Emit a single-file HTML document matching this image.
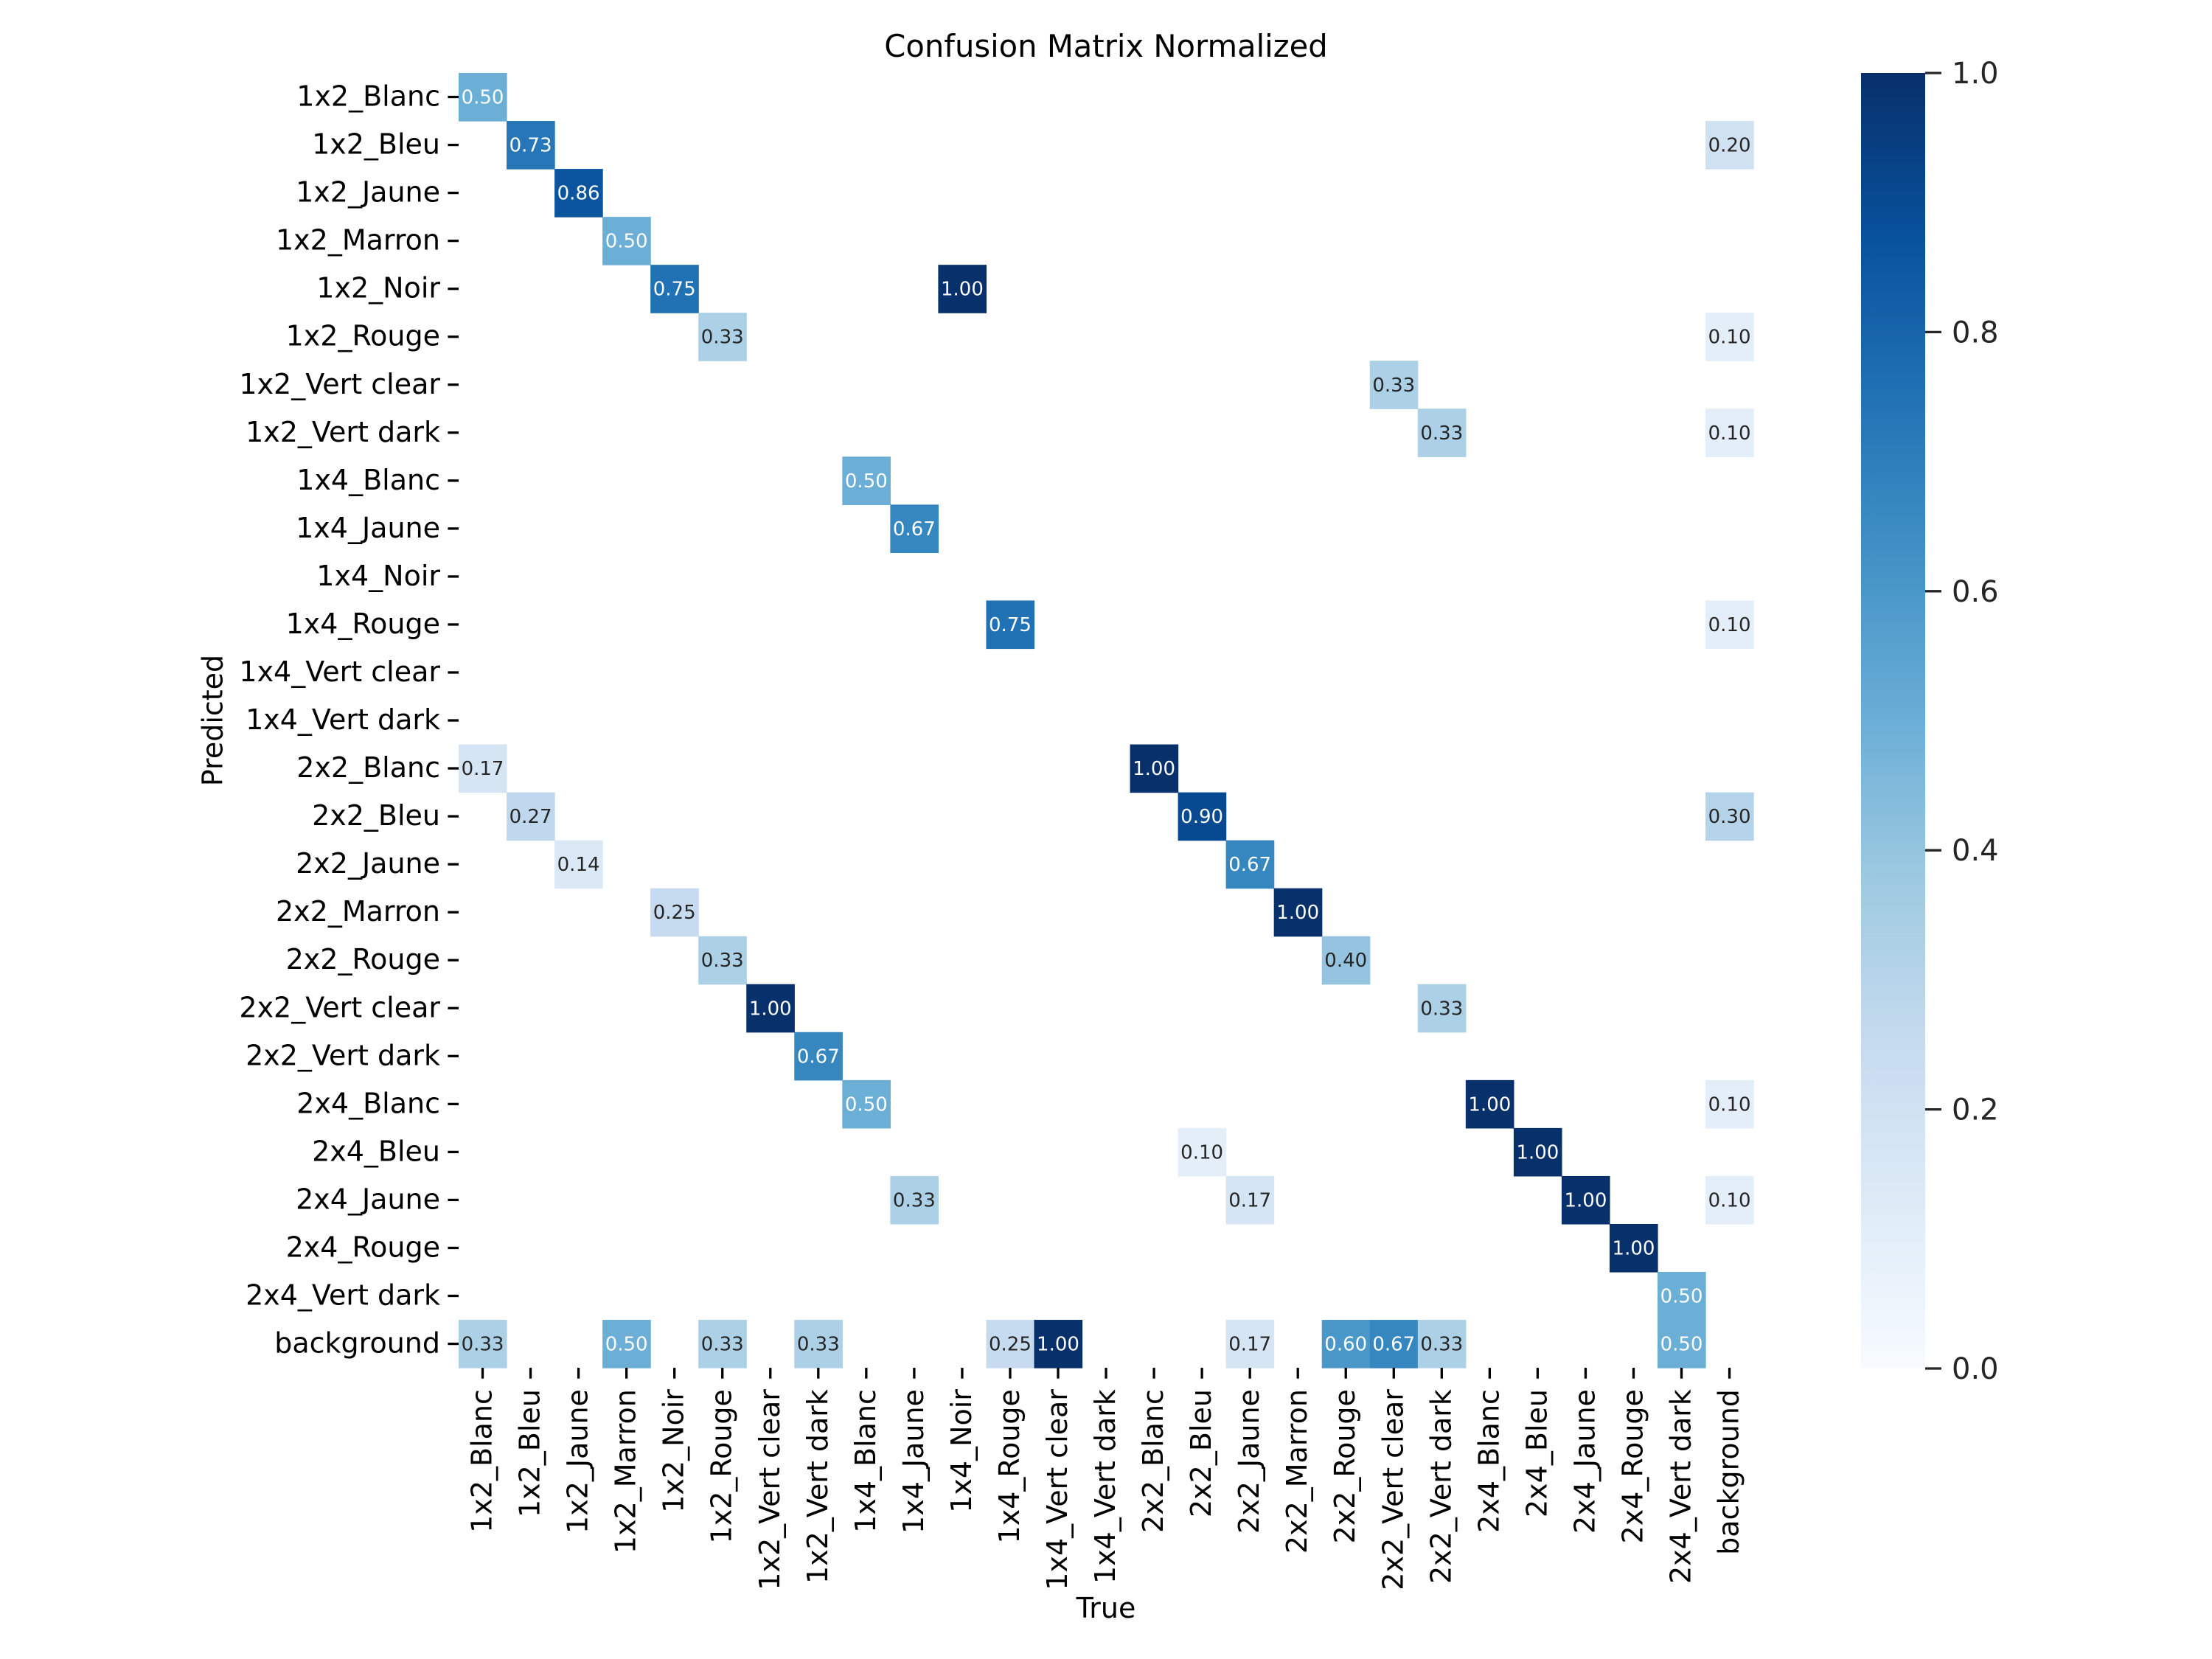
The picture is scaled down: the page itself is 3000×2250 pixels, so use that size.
<!DOCTYPE html>
<html><head><meta charset="utf-8"><style>
html,body{margin:0;padding:0;background:#fff;}
svg{display:block;font-family:"DejaVu Sans","Liberation Sans",sans-serif;}
</style></head><body>
<svg id="chart" width="3000" height="2250" viewBox="0 0 3000 2250" xmlns="http://www.w3.org/2000/svg">
<defs>
<linearGradient id="cbgrad" x1="0" y1="1" x2="0" y2="0">
<stop offset="0" stop-color="#f7fbff"/><stop offset="0.125" stop-color="#deebf7"/><stop offset="0.25" stop-color="#c6dbef"/><stop offset="0.375" stop-color="#9ecae1"/><stop offset="0.5" stop-color="#6baed6"/><stop offset="0.625" stop-color="#4292c6"/><stop offset="0.75" stop-color="#2171b5"/><stop offset="0.875" stop-color="#08519c"/><stop offset="1" stop-color="#08306b"/>
</linearGradient>
</defs>
<text x="1500" y="77" text-anchor="middle" font-size="41.7" fill="#000">Confusion Matrix Normalized</text>
<g id="cells"></g>
<g id="ylabels"></g>
<g id="xlabels"></g>
<text x="291" y="977" transform="rotate(-90 291 977)" text-anchor="middle" dominant-baseline="middle" font-size="38" fill="#000">Predicted</text>
<text x="1500" y="2194" text-anchor="middle" font-size="38" fill="#000">True</text>
<rect x="2524" y="99" width="87" height="1757" fill="url(#cbgrad)"/>
<g id="cbticks"></g>
</svg>
<script>
const labels = ["1x2_Blanc","1x2_Bleu","1x2_Jaune","1x2_Marron","1x2_Noir","1x2_Rouge","1x2_Vert clear","1x2_Vert dark","1x4_Blanc","1x4_Jaune","1x4_Noir","1x4_Rouge","1x4_Vert clear","1x4_Vert dark","2x2_Blanc","2x2_Bleu","2x2_Jaune","2x2_Marron","2x2_Rouge","2x2_Vert clear","2x2_Vert dark","2x4_Blanc","2x4_Bleu","2x4_Jaune","2x4_Rouge","2x4_Vert dark","background"];
const cellRows = [0,1,1,2,3,4,4,5,5,6,7,7,8,9,11,11,14,14,15,15,15,16,16,17,17,18,18,19,19,20,21,21,21,22,22,23,23,23,23,24,25,26,26,26,26,26,26,26,26,26,26,26];
const cellCols = [0,1,26,2,3,4,10,5,26,19,20,26,8,9,11,26,0,14,1,15,26,2,16,4,17,5,18,6,20,7,8,21,26,15,22,9,16,23,26,24,25,0,3,5,7,11,12,16,18,19,20,25];
const cellValues = [0.50,0.73,0.20,0.86,0.50,0.75,1.00,0.33,0.10,0.33,0.33,0.10,0.50,0.67,0.75,0.10,0.17,1.00,0.27,0.90,0.30,0.14,0.67,0.25,1.00,0.33,0.40,1.00,0.33,0.67,0.50,1.00,0.10,0.10,1.00,0.33,0.17,1.00,0.10,1.00,0.50,0.33,0.50,0.33,0.33,0.25,1.00,0.17,0.60,0.67,0.33,0.50];
const cbTicks = [0.0,0.2,0.4,0.6,0.8,1.0];

const NS="http://www.w3.org/2000/svg";
const X0=622, Y0=99, CELL=65.04, N=labels.length;
const CB_Y0=99, CB_Y1=1856, CB_X=2611;
const FS=38;
function xPos(i){return X0+i*CELL;}
function yPos(i){return Y0+i*CELL;}
function cbY(v){return CB_Y1-(CB_Y1-CB_Y0)*v;}
const stops=[[247,251,255],[222,235,247],[198,219,239],[158,202,225],[107,174,214],[66,146,198],[33,113,181],[8,81,156],[8,48,107]];
function blues(v){
  const t=Math.max(0,Math.min(1,v))*8; const i=Math.min(7,Math.floor(t)); const f=t-i;
  const c=stops[i].map((a,k)=>Math.round(a+(stops[i+1][k]-a)*f));
  return {css:`rgb(${c[0]},${c[1]},${c[2]})`,rgb:c};
}
function lum(c){const l=c.map(x=>{x/=255;return x<=0.03928?x/12.92:Math.pow((x+0.055)/1.055,2.4);});return 0.2126*l[0]+0.7152*l[1]+0.0722*l[2];}
function mk(tag,attrs,parent){const e=document.createElementNS(NS,tag);for(const k in attrs)e.setAttribute(k,attrs[k]);parent.appendChild(e);return e;}

const gc=document.getElementById('cells');
for(let k=0;k<cellValues.length;k++){
  const v=cellValues[k], r=cellRows[k], c=cellCols[k];
  const col=blues(v);
  const rect=mk('rect',{x:xPos(c),y:yPos(r),width:CELL+0.6,height:CELL+0.6,fill:col.css},gc);
  
  
  const t=mk('text',{x:xPos(c)+CELL/2,y:yPos(r)+CELL/2+9,'text-anchor':'middle','font-size':26,fill:lum(col.rgb)>0.408?'#262626':'#ffffff'},gc);
  t.textContent=v.toFixed(2);
  
  
}
const gy=document.getElementById('ylabels'), gx=document.getElementById('xlabels');
for(let i=0;i<N;i++){
  const cy=yPos(i)+CELL/2;
  mk('line',{x1:X0-14.6,x2:X0,y1:cy,y2:cy,stroke:'#000','stroke-width':3.3},gy);
  const t=mk('text',{x:X0-25,y:cy+12,'text-anchor':'end','font-size':FS,fill:'#000'},gy);
  t.textContent=labels[i];
  
  
  const cx=xPos(i)+CELL/2, by=Y0+N*CELL;
  mk('line',{x1:cx,x2:cx,y1:by,y2:by+14.6,stroke:'#000','stroke-width':3.3},gx);
  const tx=mk('text',{x:cx+12,y:by+29,'text-anchor':'end','font-size':FS,fill:'#000',transform:`rotate(-90 ${cx+12} ${by+29})`},gx);
  tx.textContent=labels[i];
  
  
}
const gcb=document.getElementById('cbticks');
cbTicks.forEach(v=>{
  const y=cbY(v);
  mk('line',{x1:CB_X,x2:CB_X+22,y1:y,y2:y,stroke:'#262626','stroke-width':3.3},gcb);
  const t=mk('text',{x:CB_X+36,y:y+14,'font-size':40,fill:'#262626'},gcb);
  t.textContent=v.toFixed(1);
  
  
});
</script>
</body></html>
